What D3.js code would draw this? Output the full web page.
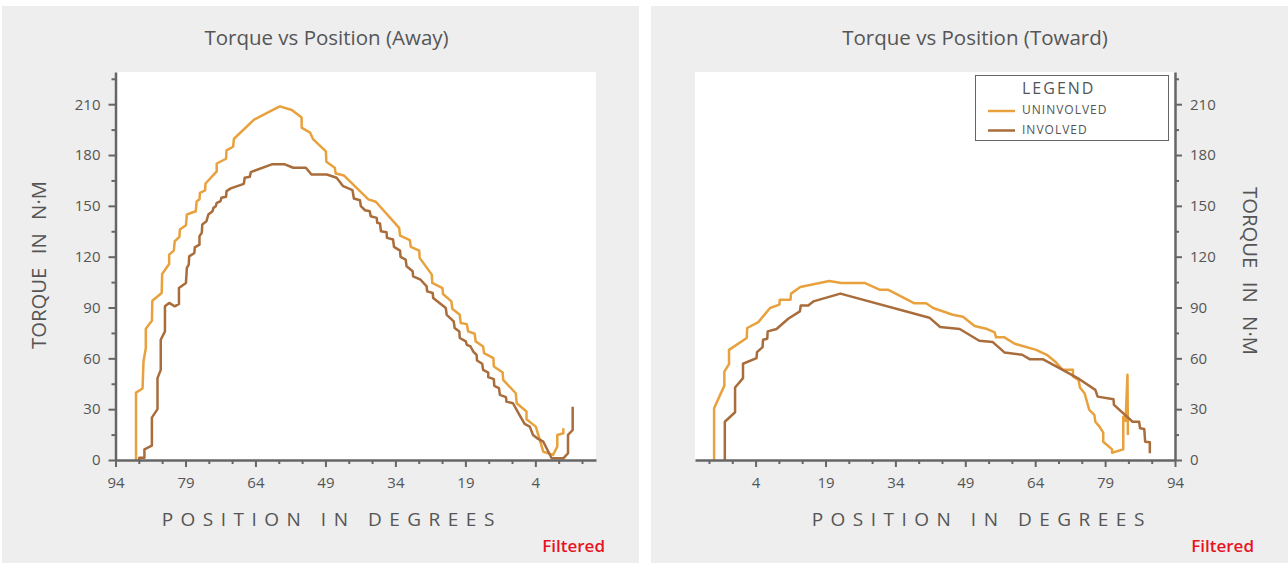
<!DOCTYPE html>
<html>
<head>
<meta charset="utf-8">
<script src="https://cdnjs.cloudflare.com/ajax/libs/d3/7.8.5/d3.min.js"></script>
<style>
  body { margin: 0; background: #fff; }
  svg { display: block; font-family: "Open Sans", sans-serif; }
</style>
</head>
<body>
<div id="chart"></div>
<script>

// Away: position (degrees) and torque (N·m)
let awayUninvolvedPos = [89.6,89.6,88.2,88.0,87.5,87.5,86.2,86.1,84.1,84.0,82.5,82.5,81.5,81.3,80.3,80.2,78.9,78.7,76.8,76.6,76.0,75.9,74.8,74.7,72.3,72.3,70.3,70.2,68.8,68.6,64.3,58.8,56.2,54.1,54.1,52.3,51.6,48.9,48.8,47.0,46.8,45.0,39.8,38.2,33.2,33.0,30.9,30.7,28.9,28.8,26.2,26.1,23.9,23.8,22.0,21.8,20.2,20.0,18.7,18.4,17.0,16.8,15.2,15.0,13.0,12.9,11.0,10.9,8.2,8.0,5.9,5.9,3.9,2.3,0.2,-0.7,-0.7,-2.0,-2.0];
let awayUninvolvedTorque = [0,39.8,42.2,58.1,66.1,77.5,82.2,94.0,98.6,109.8,115.7,121.2,123.6,129.1,131.7,136.0,138.6,144.9,146.8,152.7,153.8,157.7,159.1,163.2,170.3,175.0,177.8,182.7,184.9,189.6,200.9,208.7,206.6,202.1,196.2,193.2,189.2,182.1,176.0,172.5,169.1,167.9,153.8,152.4,137.0,132.5,129.7,125.8,123.6,119.3,109.4,104.5,101.5,98.0,93.6,89.3,85.7,80.8,80.2,75.9,74.5,70.0,67.0,63.1,60.1,55.2,51.6,47.3,39.4,33.5,28.6,24.1,19.7,4.9,3.0,7.9,14.8,15.8,18.7];

let awayInvolvedPos = [88.9,88.9,87.8,87.8,86.2,86.2,85.0,85.0,84.3,84.3,83.4,83.4,82.5,81.3,80.4,80.4,78.9,78.7,78.3,78.2,77.1,77.0,76.0,76.0,75.5,75.4,74.5,74.1,73.2,73.0,72.5,72.3,71.5,71.3,70.3,70.2,69.3,66.5,66.3,65.2,65.0,60.5,57.7,55.9,53.2,52.0,48.7,46.6,45.2,43.2,42.9,41.6,41.4,40.5,39.5,39.3,38.0,37.9,37.3,37.1,35.9,35.8,34.5,34.3,33.0,32.9,31.8,31.6,30.3,30.2,28.6,27.3,27.2,26.0,25.9,23.2,23.0,21.5,21.3,20.3,20.2,18.9,18.7,17.9,17.3,16.6,16.5,15.4,15.2,14.1,14.1,12.9,12.8,11.8,11.6,10.3,10.2,8.8,7.2,6.3,5.2,4.5,3.6,2.3,0.5,-2.0,-3.0,-3.0,-4.0,-4.0];
let awayInvolvedTorque = [0,1.4,1.4,6.3,8.5,25.0,30.0,48.3,53.2,71.0,75.9,90.7,92.7,90.7,92.1,101.5,104.5,113.4,115.3,120.2,122.2,125.5,127.1,132.1,134.1,139.0,140.9,144.9,146.8,148.8,149.8,151.8,152.7,154.8,155.4,158.7,160.3,163.0,166.6,167.2,169.9,174.5,174.5,172.5,172.5,168.5,168.5,166.6,161.6,159.3,154.3,153.3,149.8,147.4,146.8,143.9,142.9,140.0,139.6,135.0,134.4,131.1,130.1,125.8,123.6,119.9,118.3,114.3,111.4,108.4,106.4,102.5,99.5,98.6,95.6,89.7,85.7,81.8,77.9,75.9,72.0,70.0,68.0,67.0,64.0,62.1,58.7,56.8,53.2,51.6,48.9,47.7,43.8,42.4,38.4,37.1,34.5,33.5,25.6,21.3,19.7,14.8,12.8,10.8,1.0,1.0,4.0,14.8,17.7,31.5];

// Toward
let towardUninvolvedPos = [-4.9,-4.9,-2.7,-2.7,-1.7,-1.7,2.1,2.2,4.6,7.1,9.1,9.2,11.5,11.6,13.6,19.8,22.4,27.4,30.6,32.4,38.1,40.6,42.1,46.3,48.5,51.0,53.7,55.3,55.6,57.4,59.6,64.2,66.5,68.5,69.9,72.1,72.1,73.3,73.6,74.6,75.6,76.7,76.9,77.8,78.6,78.6,80.5,80.5,82.9,82.9,83.4,83.8,83.9];
let towardUninvolvedTorque = [0,30.6,43.9,52.2,56.6,65.0,72.0,77.9,81.4,89.7,91.7,94.6,94.6,98.2,102.1,105.7,104.5,104.5,100.5,100.5,92.5,92.5,89.7,85.7,84.6,79.1,77.3,75.3,72.4,72.4,68.6,65.0,62.1,57.5,53.2,53.2,49.3,47.3,42.8,39.4,29.6,26.6,22.6,19.7,16.1,10.8,6.3,4.3,6.3,25.6,23.1,50.3,14.8];

let towardInvolvedPos = [-2.6,-2.6,-0.4,-0.4,1.3,1.3,4.2,4.3,5.5,5.6,6.5,6.6,8.5,11.0,13.5,13.7,15.3,16.4,22.2,41.3,43.6,47.8,52.0,54.9,57.4,61.2,62.8,65.6,69.2,73.5,76.9,77.4,80.8,80.9,84.9,86.3,86.5,87.4,87.6,88.6,88.6];
let towardInvolvedTorque = [0,22.6,28.2,42.8,48.3,56.8,60.1,63.7,66.6,71.0,71.6,75.9,77.3,83.4,87.7,91.2,91.2,93.6,98.2,84.0,78.5,77.3,70.4,69.6,63.5,62.1,59.5,59.5,54.2,47.7,41.4,37.4,35.9,32.5,22.6,22.6,18.7,18.3,10.8,10.5,4.0];

let xTickLabels = [94, 79, 64, 49, 34, 19, 4];
let yTickLabels = [0, 30, 60, 90, 120, 150, 180, 210];
let seriesNames = ["UNINVOLVED", "INVOLVED"];
let seriesColors = ["#e8a13c", "#a96c3b"];

let width = 1288;
let height = 563;

let svg = d3.select("#chart")
            .append("svg")
            .attr("width", width)
            .attr("height", height);

let yScale = d3.scaleLinear()
               .domain([0, 229])
               .range([460, 72]);

// minor ticks every 5 deg / 15 N·m
let xMinor = d3.range(94, -7, -5).filter(d => !xTickLabels.includes(d));
let yMinor = d3.range(0, 226, 15).filter(d => !yTickLabels.includes(d));

function styleAxis(g) {
  g.select(".domain").attr("stroke", "#666").attr("stroke-width", 2.5);
  g.selectAll(".tick line").attr("stroke", "#666").attr("stroke-width", 2);
  g.selectAll(".tick text")
   .attr("fill", "#555")
   .style("font-size", "15px")
   .style("font-family", "'Open Sans', sans-serif");
}

function drawPanel(p) {
  // grey card + white plot area
  svg.append("rect")
     .attr("x", p.bgX).attr("y", 6)
     .attr("width", 637).attr("height", 557)
     .attr("fill", "#eeeeee");

  svg.append("rect")
     .attr("x", p.left).attr("y", 72)
     .attr("width", p.right - p.left).attr("height", 388)
     .attr("fill", "#ffffff");

  let xScale = d3.scaleLinear()
                 .domain(p.xDomain)
                 .range([p.left, p.right]);

  // lines
  let line = d3.line()
               .x(d => xScale(d[0]))
               .y(d => yScale(d[1]));

  p.series.forEach((s, i) => {
    svg.append("path")
       .datum(d3.zip(s.pos, s.torque))
       .attr("fill", "none")
       .attr("stroke", seriesColors[i])
       .attr("stroke-width", 2.5)
       .attr("stroke-linejoin", "round")
       .attr("d", line);
  });

  // x axis
  let xMinorAxis = svg.append("g")
     .attr("transform", "translate(0,460)")
     .call(d3.axisBottom(xScale).tickValues(xMinor).tickSize(4).tickFormat(""));
  xMinorAxis.select(".domain").remove();
  styleAxis(xMinorAxis);

  let xAxis = svg.append("g")
     .attr("transform", "translate(0,460)")
     .call(d3.axisBottom(xScale).tickValues(xTickLabels).tickSize(7).tickSizeOuter(0).tickPadding(10));
  styleAxis(xAxis);

  // y axis
  let yAx = p.side == "left" ? d3.axisLeft : d3.axisRight;
  let yX = p.side == "left" ? p.left : p.right;

  let yMinorAxis = svg.append("g")
     .attr("transform", `translate(${yX},0)`)
     .call(yAx(yScale).tickValues(yMinor).tickSize(4).tickFormat(""));
  yMinorAxis.select(".domain").remove();
  styleAxis(yMinorAxis);

  let yAxis = svg.append("g")
     .attr("transform", `translate(${yX},0)`)
     .call(yAx(yScale).tickValues(yTickLabels).tickSize(7).tickSizeOuter(0).tickPadding(8));
  styleAxis(yAxis);

  // Title
  svg.append("text")
     .attr("x", p.titleX).attr("y", 45)
     .attr("text-anchor", "middle")
     .attr("fill", "#555")
     .style("font-size", "20.5px")
     .text(p.title);

  // x title (spaced capitals)
  svg.append("text")
     .attr("x", p.xTitleX + 3.75).attr("y", 526)
     .attr("text-anchor", "middle")
     .attr("fill", "#555")
     .style("font-size", "19px")
     .style("letter-spacing", "7.5px")
     .text("POSITION IN DEGREES");

  // y title
  svg.append("text")
     .attr("transform", `translate(${p.yTitleX},${p.yTitleY}) rotate(${p.side == "left" ? -90 : 90})`)
     .attr("text-anchor", "middle")
     .attr("fill", "#555")
     .style("font-size", "20px")
     .style("word-spacing", "8px")
     .attr("textLength", 168)
     .attr("lengthAdjust", "spacingAndGlyphs")
     .text("TORQUE IN N·M");

  svg.append("text")
     .attr("x", p.filteredX).attr("y", 552)
     .attr("text-anchor", "end")
     .attr("fill", "#e8131f")
     .style("font-size", "17px")
     .style("font-weight", "600")
     .text("Filtered");
}

function drawLegend() {
  svg.append("rect")
     .attr("x", 975.5).attr("y", 75.5)
     .attr("width", 193).attr("height", 65)
     .attr("fill", "#fff")
     .attr("stroke", "#666")
     .attr("stroke-width", 1);

  svg.append("text")
     .attr("x", 1022).attr("y", 94)
     .attr("fill", "#555")
     .style("font-size", "16px")
     .style("letter-spacing", "2px")
     .text("LEGEND");

  seriesNames.forEach((name, i) => {
    let yy = 111 + i * 19.5;
    svg.append("line")
       .attr("x1", 988).attr("x2", 1015)
       .attr("y1", yy).attr("y2", yy)
       .attr("stroke", seriesColors[i])
       .attr("stroke-width", 2.5);
    svg.append("text")
       .attr("x", 1022).attr("y", yy + 3)
       .attr("fill", "#555")
       .style("font-size", "12px")
       .style("letter-spacing", "1px")
       .text(name);
  });
}

drawPanel({
  bgX: 2, left: 115.5, right: 596, xDomain: [94, -9], side: "left",
  title: "Torque vs Position (Away)", titleX: 326.5, xTitleX: 328,
  yTitleX: 46, yTitleY: 265, filteredX: 605,
  series: [
    { pos: awayUninvolvedPos, torque: awayUninvolvedTorque },
    { pos: awayInvolvedPos, torque: awayInvolvedTorque }
  ]
});

drawPanel({
  bgX: 651, left: 695, right: 1175, xDomain: [-9, 94], side: "right",
  title: "Torque vs Position (Toward)", titleX: 975, xTitleX: 978,
  yTitleX: 1243, yTitleY: 271, filteredX: 1254,
  series: [
    { pos: towardUninvolvedPos, torque: towardUninvolvedTorque },
    { pos: towardInvolvedPos, torque: towardInvolvedTorque }
  ]
});

drawLegend();
</script>
</body>
</html>
